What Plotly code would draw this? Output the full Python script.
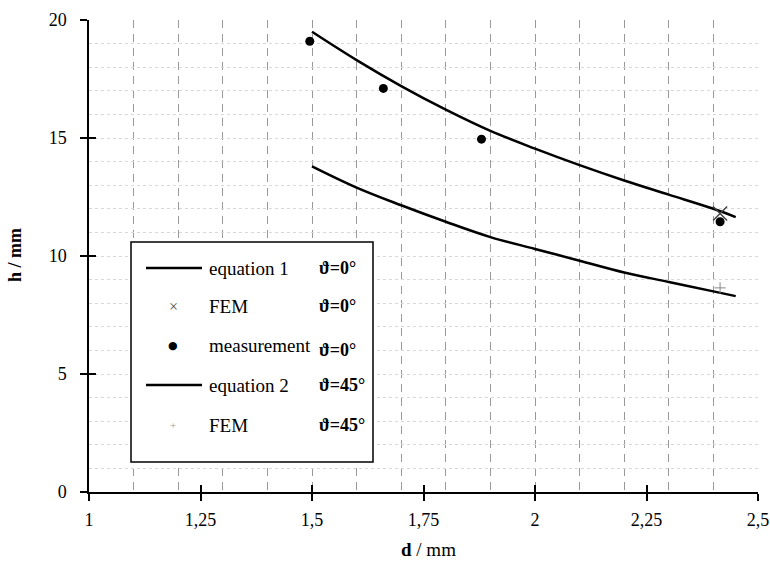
import plotly.graph_objects as go

# ---- data ----
d_eq = [1.5, 1.6, 1.7, 1.8, 1.9, 2.0, 2.1, 2.2, 2.3, 2.4, 2.45]
h_eq1 = [19.5, 18.3, 17.2, 16.2, 15.3, 14.55, 13.85, 13.2, 12.6, 12.0, 11.65]
h_eq2 = [13.8, 12.9, 12.15, 11.45, 10.8, 10.3, 9.8, 9.3, 8.9, 8.5, 8.3]

d_meas = [1.495, 1.66, 1.88, 2.415]
h_meas = [19.1, 17.1, 14.95, 11.45]

d_fem0 = [2.415]
h_fem0 = [11.8]
d_fem45 = [2.415]
h_fem45 = [8.65]

x_tickvals = [1, 1.25, 1.5, 1.75, 2, 2.25, 2.5]
x_ticktext = ["1", "1,25", "1,5", "1,75", "2", "2,25", "2,5"]
y_tickvals = [0, 5, 10, 15, 20]
y_ticktext = ["0", "5", "10", "15", "20"]

legend_names = ["equation 1", "FEM", "measurement", "equation 2", "FEM"]
legend_angles = ["ϑ=0°", "ϑ=0°", "ϑ=0°", "ϑ=45°", "ϑ=45°"]

FONT = "Liberation Serif"

fig = go.Figure()
fig.add_trace(go.Scatter(x=d_eq, y=h_eq1, mode="lines", line=dict(color="black", width=2.5),
                         line_shape="spline", showlegend=False))
fig.add_trace(go.Scatter(x=d_eq, y=h_eq2, mode="lines", line=dict(color="black", width=2.5),
                         line_shape="spline", showlegend=False))
fig.add_trace(go.Scatter(x=d_meas, y=h_meas, mode="markers",
                         marker=dict(symbol="circle", size=9, color="black"), showlegend=False))
fig.add_trace(go.Scatter(x=d_fem0, y=h_fem0, mode="markers",
                         marker=dict(symbol="x-thin", size=14, line=dict(color="#444", width=1.5)),
                         showlegend=False))
fig.add_trace(go.Scatter(x=d_fem45, y=h_fem45, mode="markers",
                         marker=dict(symbol="cross-thin", size=8, line=dict(color="#888", width=1)),
                         showlegend=False))
# empty traces to create tick-overlay axes
fig.add_trace(go.Scatter(x=[], y=[], xaxis="x2", yaxis="y2", showlegend=False))
fig.add_trace(go.Scatter(x=[], y=[], xaxis="x3", yaxis="y3", showlegend=False))

xr = [1, 2.5]
yr = [0, 20]

fig.update_layout(
    width=770, height=573,
    margin=dict(l=89, r=12, t=20, b=81, autoexpand=False),
    paper_bgcolor="white", plot_bgcolor="white",
    font=dict(family=FONT, size=18, color="black"),
    xaxis=dict(range=xr, dtick=0.1, tick0=1, showgrid=True, gridcolor="#999",
               griddash="8px,6px", gridwidth=1, showticklabels=False, ticks="",
               zeroline=False, showline=False, automargin=False),
    yaxis=dict(range=yr, dtick=1, tick0=0, showgrid=True, gridcolor="#d8d8d8",
               griddash="dot", gridwidth=1, showticklabels=False, ticks="",
               zeroline=False, showline=False, automargin=False),
    xaxis2=dict(range=xr, overlaying="x", anchor="y2", tickvals=x_tickvals, ticktext=x_ticktext,
                ticks="outside", ticklen=7, tickwidth=1.5, tickcolor="black",
                showline=True, linecolor="black", linewidth=1.5, showgrid=False, zeroline=False,
                ticklabelstandoff=4, tickfont=dict(family=FONT, size=18), automargin=False),
    yaxis2=dict(range=yr, overlaying="y", anchor="x2", tickvals=y_tickvals, ticktext=y_ticktext,
                ticks="outside", ticklen=7, tickwidth=1.5, tickcolor="black",
                showline=True, linecolor="black", linewidth=1.5, showgrid=False, zeroline=False,
                ticklabelstandoff=10, tickfont=dict(family=FONT, size=18), automargin=False),
    xaxis3=dict(range=xr, overlaying="x", anchor="y3", tickvals=x_tickvals, showticklabels=False,
                ticks="inside", ticklen=7, tickwidth=1.5, tickcolor="black",
                showline=False, showgrid=False, zeroline=False, automargin=False),
    yaxis3=dict(range=yr, overlaying="y", anchor="x3", tickvals=y_tickvals, showticklabels=False,
                ticks="inside", ticklen=7, tickwidth=1.5, tickcolor="black",
                showline=False, showgrid=False, zeroline=False, automargin=False),
    showlegend=False,
)

L, R, T, B = 89, 758, 20, 492
def px(x):
    return (x - L) / (R - L)
def py(y):
    return (B - y) / (B - T)

# axis titles
fig.add_annotation(xref="paper", yref="paper", x=px(428), y=py(549), text="<b>d</b> / mm",
                   xanchor="center", yanchor="middle",
                   showarrow=False, font=dict(family=FONT, size=19))
fig.add_annotation(xref="paper", yref="paper", x=px(15), y=py(255), text="<b>h / mm</b>",
                   xanchor="center", yanchor="middle",
                   textangle=-90, showarrow=False, font=dict(family=FONT, size=18))

# ---- custom two-column legend ----
fig.add_shape(type="rect", xref="paper", yref="paper",
              x0=px(131), x1=px(373), y0=py(462), y1=py(242),
              line=dict(color="black", width=1.5), fillcolor="white", layer="above")

rows_y = [268, 306, 345, 385, 425]
for i, (name, ang) in enumerate(zip(legend_names, legend_angles)):
    yy = py(rows_y[i])
    if i in (0, 3):
        fig.add_shape(type="line", xref="paper", yref="paper",
                      x0=px(146), x1=px(202), y0=yy, y1=yy,
                      line=dict(color="black", width=2.5), layer="above")
    elif i == 1:
        fig.add_annotation(xref="paper", yref="paper", x=px(173), y=yy, text="×",
                           xanchor="center", yanchor="middle",
                           showarrow=False, font=dict(family=FONT, size=16, color="#555"))
    elif i == 2:
        fig.add_annotation(xref="paper", yref="paper", x=px(173), y=yy, text="●",
                           xanchor="center", yanchor="middle",
                           showarrow=False, font=dict(family="DejaVu Sans", size=11, color="black"))
    else:
        fig.add_annotation(xref="paper", yref="paper", x=px(173), y=yy, text="+",
                           xanchor="center", yanchor="middle",
                           showarrow=False, font=dict(family=FONT, size=11, color="#999"))
    fig.add_annotation(xref="paper", yref="paper", x=px(207), y=yy, text=name,
                       xanchor="left", yanchor="middle", showarrow=False,
                       font=dict(family=FONT, size=19))
    fig.add_annotation(xref="paper", yref="paper", x=px(317), y=yy + (-0.01 if i == 2 else 0),
                       text="<b>" + ang + "</b>",
                       xanchor="left", yanchor="middle", showarrow=False,
                       font=dict(family=FONT, size=18))

fig.write_html("out.html", config={"displayModeBar": False},
               post_script="document.body.style.margin='0';document.body.style.padding='0';")
